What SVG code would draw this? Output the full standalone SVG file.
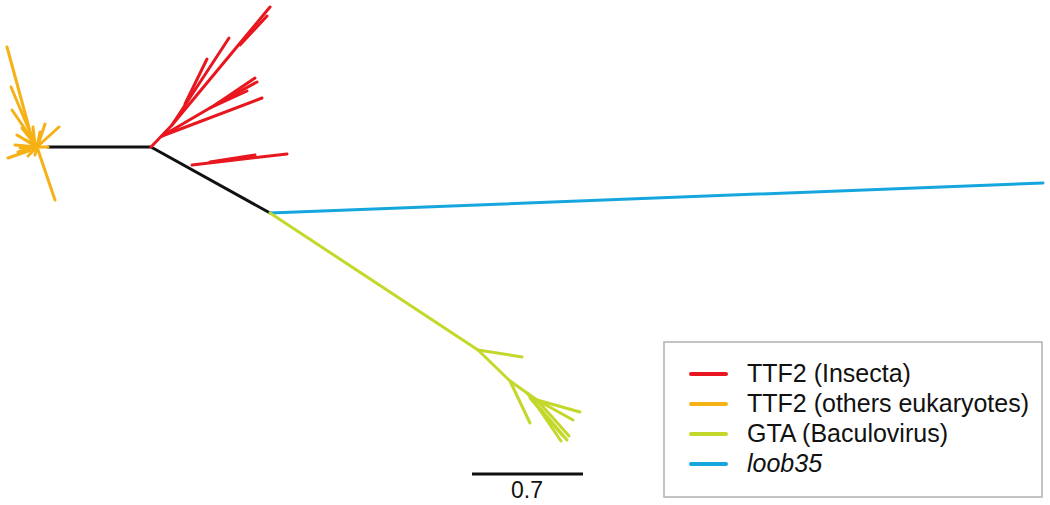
<svg xmlns="http://www.w3.org/2000/svg" width="1050" height="505" viewBox="0 0 1050 505">
  <style>
    .br { fill: none; stroke-width: 3; stroke-linecap: round; stroke-linejoin: round; }
    .k { stroke: #111; }
    .r { stroke: #e8171f; }
    .o { stroke: #f6b116; }
    .g { stroke: #c3d82a; }
    .b { stroke: #15a6dd; }
    .lg { font-family: "Liberation Sans", Arial, sans-serif; font-size: 25px; fill: #111; }
    .leg { stroke-width: 4; stroke-linecap: round; }
  </style>
  <rect width="1050" height="505" fill="#fff"/>
  <g id="tree">
    <g id="backbone" class="br k">
      <path d="M48,147 L151,147 L270,213"/>
    </g>
    <g id="clade-orange" class="br o">
      <path d="M34,146 L7,47"/>
      <path d="M35,144 L11,87"/>
      <path d="M34,142 L12,110"/>
      <path d="M37,147 L55,200"/>
      <path d="M38,146 L59,127"/>
      <path d="M38,145 L45,124"/>
      <path d="M37,148 L8,158"/>
      <path d="M35,145 L33,127"/>
      <path d="M37,147 L17,135"/>
      <path d="M37,147 L15,145"/>
      <path d="M37,147 L18,152"/>
      <path d="M37,147 L22,128"/>
      <path d="M37,147 L28,156"/>
      <path d="M37,147 L35,155"/>
      <path d="M37,147 L40,132"/>
      <path d="M37,147 L26,140"/>
      <path d="M37,147 L20,148"/>
      <path d="M37,147 L24,152"/>
      <path d="M37,147 L31,134"/>
      <path d="M37,147 L48,147"/>
    </g>
    <g id="clade-red" class="br r">
      <path d="M151,147 L172,125 L270,7"/>
      <path d="M240,45 L267,16"/>
      <path d="M172,125 L229,38"/>
      <path d="M185,104 L207,59"/>
      <path d="M162,136 L215,105 L255,78"/>
      <path d="M215,105 L257,82"/>
      <path d="M210,108 L247,91"/>
      <path d="M162,136 L262,98"/>
      <path d="M192,165 L287,154"/>
      <path d="M210,162 L255,155"/>
    </g>
    <g id="clade-blue" class="br b">
      <path d="M270,213 L1043,183"/>
    </g>
    <g id="clade-green" class="br g">
      <path d="M270,213 L478,350 L510,381 L537,400"/>
      <path d="M478,350 L522,357"/>
      <path d="M510,381 L530,423"/>
      <path d="M537,400 L580,412"/>
      <path d="M537,400 L573,420"/>
      <path d="M527,393 L567,440"/>
      <path d="M530,398 L563,436"/>
      <path d="M533,400 L561,441"/>
      <path d="M537,400 L569,436"/>
    </g>
  </g>
  <g id="scale-bar">
    <line x1="472" y1="474" x2="583" y2="474" stroke="#111" stroke-width="3"/>
    <text class="lg" x="527" y="498" text-anchor="middle" style="font-size:23px">0.7</text>
  </g>
  <g id="legend">
    <rect x="664" y="342" width="378" height="155" fill="#fff" stroke="#b0b0b0" stroke-width="1.5"/>
    <line class="leg r" x1="691" y1="374" x2="726" y2="374"/>
    <text class="lg" x="747" y="382">TTF2 (Insecta)</text>
    <line class="leg o" x1="691" y1="404" x2="726" y2="404"/>
    <text class="lg" x="747" y="412">TTF2 (others eukaryotes)</text>
    <line class="leg g" x1="691" y1="434" x2="726" y2="434"/>
    <text class="lg" x="747" y="442">GTA (Baculovirus)</text>
    <line class="leg b" x1="691" y1="464" x2="726" y2="464"/>
    <text class="lg" x="747" y="472" font-style="italic">loob35</text>
  </g>
</svg>
